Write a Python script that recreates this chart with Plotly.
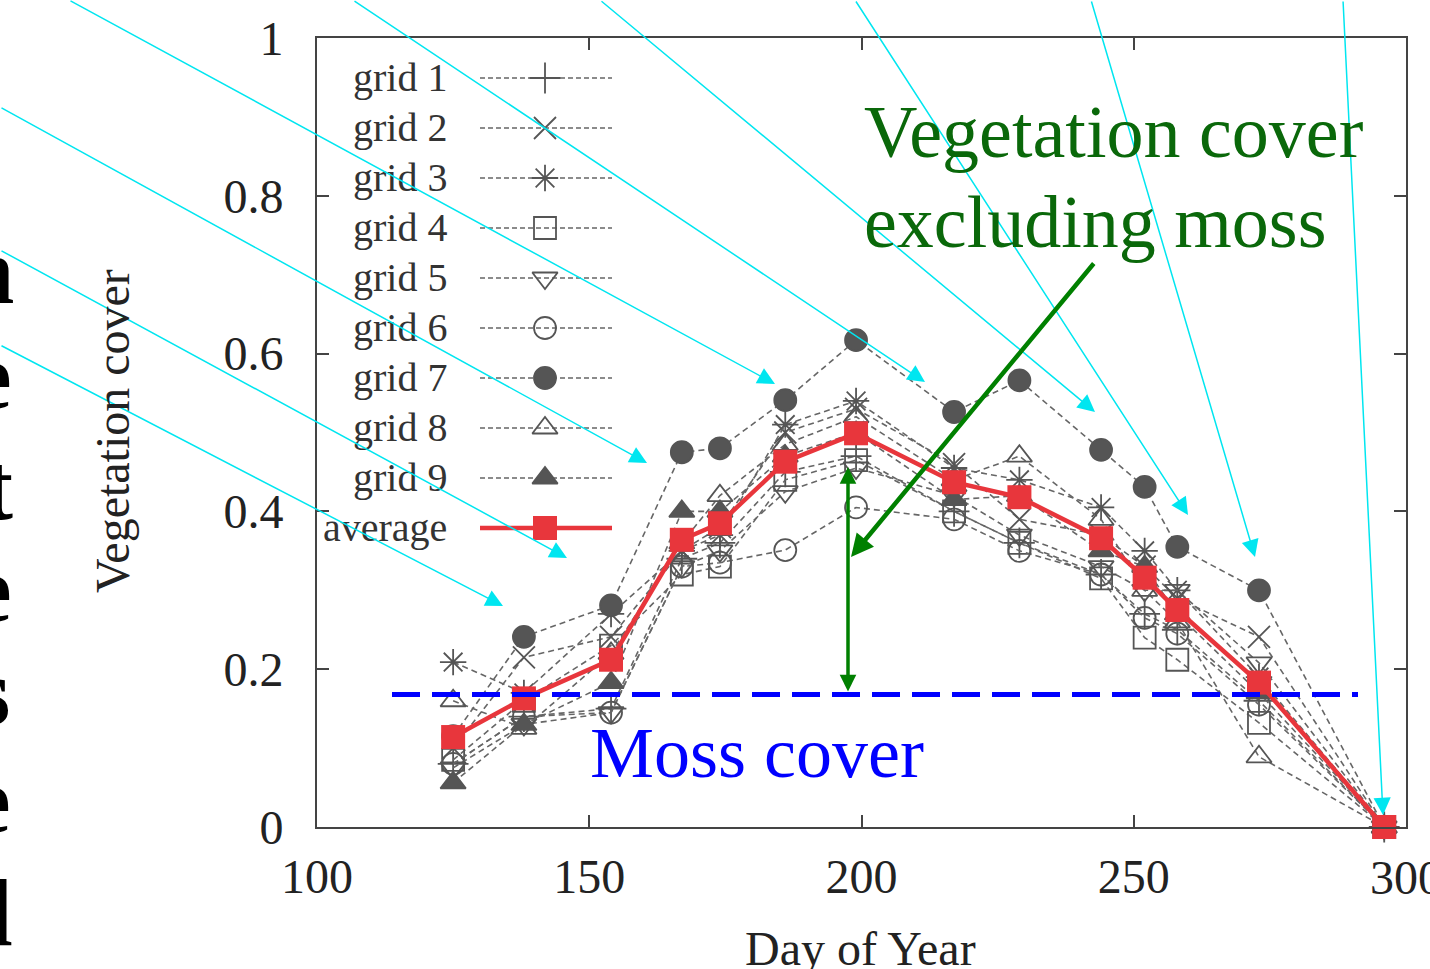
import plotly.graph_objects as go

# ---------------- data ----------------
days = [125, 138, 154, 167, 174, 186, 199, 217, 229, 244, 252, 258, 273, 296]

grid1 = [0.080, 0.140, 0.150, 0.340, 0.360, 0.450, 0.470, 0.400, 0.360, 0.320, 0.270, 0.250, 0.160, 0.0]
grid2 = [0.100, 0.215, 0.241, 0.350, 0.380, 0.500, 0.530, 0.460, 0.390, 0.370, 0.330, 0.290, 0.241, 0.0]
grid3 = [0.209, 0.170, 0.270, 0.350, 0.370, 0.510, 0.540, 0.455, 0.440, 0.405, 0.350, 0.300, 0.190, 0.0]
grid4 = [0.085, 0.160, 0.230, 0.320, 0.330, 0.440, 0.465, 0.400, 0.360, 0.315, 0.240, 0.212, 0.132, 0.0]
grid5 = [0.075, 0.130, 0.145, 0.330, 0.350, 0.425, 0.455, 0.420, 0.370, 0.330, 0.300, 0.300, 0.208, 0.0]
grid6 = [0.080, 0.140, 0.145, 0.330, 0.335, 0.351, 0.405, 0.390, 0.350, 0.320, 0.265, 0.245, 0.155, 0.0]
grid7 = [0.115, 0.241, 0.281, 0.475, 0.480, 0.541, 0.617, 0.526, 0.566, 0.478, 0.431, 0.355, 0.300, 0.0]
grid8 = [0.160, 0.125, 0.220, 0.360, 0.420, 0.485, 0.520, 0.440, 0.470, 0.390, 0.300, 0.260, 0.089, 0.0]
grid9 = [0.056, 0.130, 0.183, 0.400, 0.400, 0.470, 0.500, 0.415, 0.420, 0.350, 0.330, 0.270, 0.170, 0.0]
average = [0.114, 0.163, 0.212, 0.364, 0.385, 0.463, 0.499, 0.437, 0.418, 0.366, 0.316, 0.275, 0.183, 0.0]

series_names = ["grid 1", "grid 2", "grid 3", "grid 4", "grid 5",
                "grid 6", "grid 7", "grid 8", "grid 9"]
series_values = [grid1, grid2, grid3, grid4, grid5, grid6, grid7, grid8, grid9]
series_symbols = ["cross-thin-open", "x-thin-open", "asterisk-open", "square-open",
                  "triangle-down-open", "circle-open", "circle", "triangle-up-open",
                  "triangle-up"]
average_name = "average"
moss_cover = 0.168

x_ticks = [100, 150, 200, 250, 300]
y_ticks = [0, 0.2, 0.4, 0.6, 0.8, 1]
x_title = "Day of Year"
y_title = "Vegetation cover"
note_green = ["Vegetation cover", "excluding moss"]
note_blue = "Moss cover"
edge_letters = ["n", "e", "t", "e", "s", "e", "d"]

# ---------------- layout constants (pixels) ----------------
W, H = 1430, 969
L, R, T, B = 317, 24, 38, 142
PW, PH = W - L - R, H - T - B
FONT = "Liberation Serif, Times New Roman, serif"
GRAY = "#555555"
RED = "#e8363c"
CYAN = "#00e6f0"
GREEN = "#008000"
DKGREEN = "#0a680a"
BLUE = "#0000ff"
TICK_FONT = dict(family=FONT, size=48, color="#222222")


def paper_x(px):
    return (px - L) / PW


def paper_y(py):
    return (H - B - py) / PH


fig = go.Figure()

# ---------------- series ----------------
for name, vals, sym in zip(series_names, series_values, series_symbols):
    fig.add_trace(go.Scatter(
        x=days, y=vals, name=name, mode="lines+markers",
        line=dict(color="#666666", width=1.6, dash="6px,4px"),
        marker=dict(symbol=sym, size=22, color=GRAY,
                    line=dict(color=GRAY, width=1.8)),
        cliponaxis=False, showlegend=False))

fig.add_trace(go.Scatter(
    x=days, y=average, name=average_name, mode="lines+markers",
    line=dict(color=RED, width=4.5),
    marker=dict(symbol="square", size=24, color=RED),
    cliponaxis=False, showlegend=False))

# ---------------- custom gnuplot-style key (pixel overlay axes) ----------------
key_row0, key_step = 78, 50
key_line = (480, 612)
key_mark = 545
key_text_right = 449
all_names = series_names + [average_name]
for i, name in enumerate(all_names):
    ry = key_row0 + key_step * i
    if name == average_name:
        ln = dict(color=RED, width=4.5)
        mk = dict(symbol="square", size=24, color=RED)
    else:
        ln = dict(color="#666666", width=1.4, dash="5px,3px")
        sym = series_symbols[i]
        mk = dict(symbol=sym, size=22, color=GRAY, line=dict(color=GRAY, width=1.8))
    fig.add_trace(go.Scatter(
        x=[key_line[0], key_line[1]], y=[ry, ry], mode="lines", line=ln,
        xaxis="x2", yaxis="y2", showlegend=False, hoverinfo="skip"))
    fig.add_trace(go.Scatter(
        x=[key_mark], y=[ry], mode="markers", marker=mk,
        xaxis="x2", yaxis="y2", showlegend=False, hoverinfo="skip"))
    fig.add_annotation(
        text=name, xref="x2", yref="y2", x=key_text_right, y=ry - 1,
        xanchor="right", yanchor="middle", showarrow=False,
        font=dict(family=FONT, size=40, color="#333333"))

annotations = []

# ---------------- cyan pointer arrows (head px, tail px) ----------------
cyan_arrows = [
    ((503, 606), (0, 345)),
    ((567, 558), (0, 250)),
    ((647, 463), (0, 107)),
    ((775, 384), (69, 0)),
    ((925, 382), (353, 0)),
    ((1095, 412), (600, 0)),
    ((1188, 515), (855, 0)),
    ((1255, 557), (1091, 0)),
    ((1383, 815), (1343, 0)),
]
for (hx, hy), (tx, ty) in cyan_arrows:
    annotations.append(dict(
        xref="x2", yref="y2", axref="x2", ayref="y2",
        x=hx, y=hy, ax=tx, ay=ty, text="", showarrow=True,
        arrowhead=2, arrowsize=2.3, arrowwidth=1.5, arrowcolor=CYAN, standoff=0))

# ---------------- green arrows ----------------
annotations.append(dict(
    xref="x2", yref="y2", axref="x2", ayref="y2",
    x=851, y=557, ax=1095, ay=262, text="", showarrow=True,
    arrowhead=2, arrowsize=1.0, arrowwidth=4.5, arrowcolor=GREEN, standoff=0))
annotations.append(dict(
    xref="x2", yref="y2", axref="x2", ayref="y2",
    x=848, y=467, ax=848, ay=693, text="", showarrow=True, arrowside="end+start",
    arrowhead=2, arrowsize=0.95, arrowwidth=3.5, arrowcolor=GREEN, standoff=0,
    startarrowhead=2, startarrowsize=0.95, startstandoff=0))

# ---------------- notes ----------------
annotations.append(dict(
    xref="paper", yref="paper", x=paper_x(862), y=paper_y(132),
    xanchor="left", yanchor="middle", showarrow=False, text=note_green[0],
    font=dict(family=FONT, size=74, color=DKGREEN)))
annotations.append(dict(
    xref="paper", yref="paper", x=paper_x(862), y=paper_y(222),
    xanchor="left", yanchor="middle", showarrow=False, text=note_green[1],
    font=dict(family=FONT, size=74, color=DKGREEN)))
annotations.append(dict(
    xref="paper", yref="paper", x=paper_x(588), y=paper_y(753),
    xanchor="left", yanchor="middle", showarrow=False, text=note_blue,
    font=dict(family=FONT, size=72, color=BLUE)))

# ---------------- axis titles ----------------
annotations.append(dict(
    xref="paper", yref="paper", x=paper_x(112), y=paper_y(431),
    xanchor="center", yanchor="middle", showarrow=False, text=y_title,
    textangle=-90, font=dict(family=FONT, size=48, color="#222222")))
annotations.append(dict(
    xref="paper", yref="paper", x=paper_x(860), y=paper_y(920),
    xanchor="center", yanchor="top", showarrow=False, text=x_title,
    font=dict(family=FONT, size=48, color="#222222")))

# last x tick label, which runs past the right page edge in the original
annotations.append(dict(
    xref="x", yref="paper", x=x_ticks[-1], y=paper_y(849),
    xanchor="center", yanchor="top", showarrow=False, text=str(x_ticks[-1]),
    font=TICK_FONT))

# ---------------- letters cut at the left edge ----------------
letter_base = [303, 408, 519, 621, 724, 832, 945]
letter_right = [16, 14, 15, 14, 12, 13, 14]
for ch, by, rx in zip(edge_letters, letter_base, letter_right):
    annotations.append(dict(
        xref="paper", yref="paper", x=paper_x(rx), y=paper_y(by - 33),
        xanchor="right", yanchor="middle", showarrow=False, text="<b>" + ch + "</b>",
        font=dict(family=FONT, size=96, color="#000000")))

fig.update_layout(annotations=list(fig.layout.annotations) + annotations)

# ---------------- moss cover line ----------------
fig.add_shape(type="line", xref="x2", yref="y", x0=392, x1=1358,
              y0=moss_cover, y1=moss_cover,
              line=dict(color=BLUE, width=5, dash="28px,12px"))

# ---------------- axes ----------------
axis_common = dict(
    showline=True, linecolor="#444444", linewidth=2, mirror="ticks",
    ticks="inside", ticklen=12, tickwidth=1.5, tickcolor="#444444",
    showgrid=False, zeroline=False, tickfont=TICK_FONT)

fig.update_layout(
    width=W, height=H,
    margin=dict(l=L, r=R, t=T, b=B, pad=0),
    paper_bgcolor="white", plot_bgcolor="white",
    showlegend=False,
    xaxis=dict(range=[100, 300], tickvals=x_ticks,
               ticktext=[str(v) for v in x_ticks[:-1]] + [""],
               ticklabelstandoff=6, automargin=False, **axis_common),
    yaxis=dict(range=[0, 1], tickvals=y_ticks,
               ticktext=["0", "0.2", "0.4", "0.6", "0.8", "1"],
               ticklabelstandoff=22, automargin=False, **axis_common),
    xaxis2=dict(range=[L, W - R], overlaying="x", visible=False, fixedrange=True),
    yaxis2=dict(range=[H - B, T], overlaying="y", visible=False, fixedrange=True),
)

fig.write_html("out.html")
